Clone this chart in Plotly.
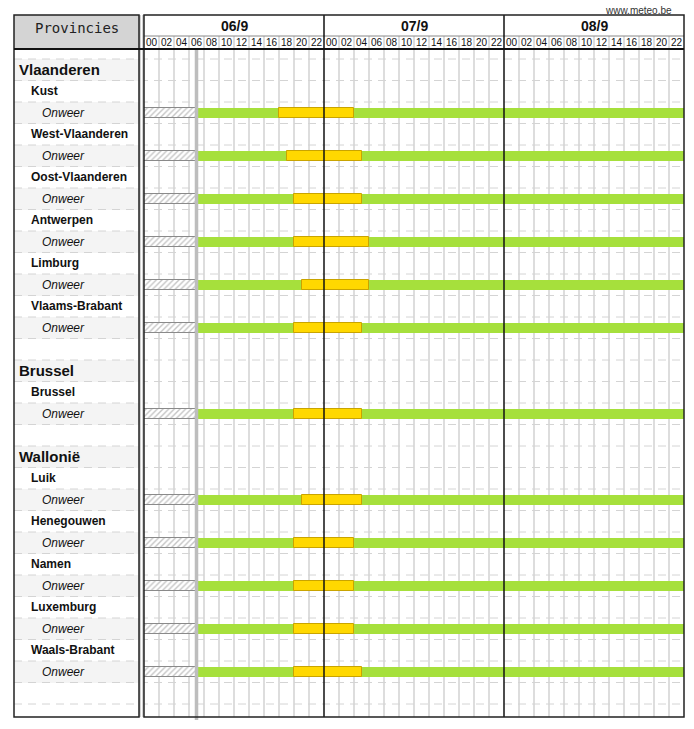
import plotly.graph_objects as go

# ---------------- data ----------------
days = ["06/9", "07/9", "08/9"]
hour_labels = ["00", "02", "04", "06", "08", "10", "12", "14", "16", "18", "20", "22"]
now_hour = 7          # hours since 06/9 00:00 (end of hatched 'past' part)
total_hours = 72

row_labels = ["Vlaanderen", "Kust", "Onweer", "West-Vlaanderen", "Onweer",
              "Oost-Vlaanderen", "Onweer", "Antwerpen", "Onweer", "Limburg", "Onweer",
              "Vlaams-Brabant", "Onweer", "", "Brussel", "Brussel", "Onweer", "",
              "Wallonië", "Luik", "Onweer", "Henegouwen", "Onweer", "Namen", "Onweer",
              "Luxemburg", "Onweer", "Waals-Brabant", "Onweer", ""]
row_levels = [0, 1, 2, 1, 2, 1, 2, 1, 2, 1, 2, 1, 2, -1, 0, 1, 2, -1,
              0, 1, 2, 1, 2, 1, 2, 1, 2, 1, 2, -1]

warn_provinces = ["Kust", "West-Vlaanderen", "Oost-Vlaanderen", "Antwerpen", "Limburg",
                  "Vlaams-Brabant", "Brussel", "Luik", "Henegouwen", "Namen",
                  "Luxemburg", "Waals-Brabant"]
yellow_start = [18, 19, 20, 20, 21, 20, 20, 21, 20, 20, 20, 20]
yellow_end = [28, 29, 29, 30, 30, 29, 29, 29, 28, 28, 28, 29]

# ---------------- layout helpers ----------------
W, H = 694, 729
def px(x):
    return x / W
def py(y):
    return 1 - y / H

ROW_PX = 21.5
CH_L, CH_R = 144, 684
LB_L, LB_R = 14, 139
TOP, HOUR_TOP, HEAD_BOT, BOT = 15, 36, 49, 717
FIRST_ROW_TOP = 59
y_top = -0.5 - (FIRST_ROW_TOP - HEAD_BOT) / ROW_PX
y_bot = -0.5 + (BOT - FIRST_ROW_TOP) / ROW_PX

n_rows = len(row_labels)
onweer_rows = [i for i, l in enumerate(row_levels) if l == 2]
FONT = "Liberation Sans, Arial, sans-serif"

fig = go.Figure()

# label column alternating background
even_rows = [i for i in range(n_rows) if i % 2 == 0]
fig.add_trace(go.Bar(orientation="h", y=even_rows, x=[1] * len(even_rows), base=0,
                     width=1, marker=dict(color="#f4f4f4", line=dict(width=0)),
                     xaxis="x2", yaxis="y", hoverinfo="skip", showlegend=False))

bar_w = 0.47
# hatched past
fig.add_trace(go.Bar(orientation="h", y=onweer_rows, base=[0] * len(onweer_rows),
                     x=[now_hour] * len(onweer_rows), width=bar_w,
                     marker=dict(color="white", line=dict(color="#8a8a8a", width=1),
                                 pattern=dict(shape="/", fgcolor="#8c8c8c", bgcolor="white",
                                              size=4, solidity=0.35)),
                     xaxis="x", yaxis="y", hoverinfo="skip", showlegend=False))
# green (no warning)
fig.add_trace(go.Bar(orientation="h", y=onweer_rows, base=[now_hour] * len(onweer_rows),
                     x=[total_hours - now_hour] * len(onweer_rows), width=bar_w,
                     marker=dict(color="#a6e03c", line=dict(width=0)),
                     xaxis="x", yaxis="y", hoverinfo="skip", showlegend=False))
# yellow warnings
fig.add_trace(go.Bar(orientation="h", y=onweer_rows, base=yellow_start,
                     x=[e - s for s, e in zip(yellow_start, yellow_end)], width=bar_w,
                     marker=dict(color="#ffd800", line=dict(color="#c9a400", width=1)),
                     xaxis="x", yaxis="y", hoverinfo="skip", showlegend=False))

shapes = []
# header grey box
shapes.append(dict(type="rect", xref="paper", yref="paper", x0=px(LB_L), x1=px(LB_R),
                   y0=py(TOP), y1=py(HEAD_BOT), fillcolor="#d4d4d4", line=dict(width=0),
                   layer="below"))
# vertical 2-hour grid lines (hour row + chart)
for h in range(2, total_hours, 2):
    if h % 24 == 0:
        continue
    shapes.append(dict(type="line", xref="x", yref="paper", x0=h, x1=h,
                       y0=py(HOUR_TOP), y1=py(BOT), line=dict(color="#d2d2d2", width=1.5),
                       layer="below"))
# dashed row boundaries
for b in range(n_rows + 1):
    shapes.append(dict(type="line", xref="paper", yref="y", x0=px(LB_L), x1=px(CH_R),
                       y0=b - 0.5, y1=b - 0.5,
                       line=dict(color="#d4d4d4", width=1, dash="8px,6px"), layer="above"))
# hour row top line
shapes.append(dict(type="line", xref="paper", yref="paper", x0=px(CH_L), x1=px(CH_R),
                   y0=py(HOUR_TOP), y1=py(HOUR_TOP), line=dict(color="#888", width=1)))
# day boundaries
for d in range(1, len(days)):
    shapes.append(dict(type="line", xref="x", yref="paper", x0=24 * d, x1=24 * d,
                       y0=py(TOP), y1=py(BOT), line=dict(color="#111", width=1.5),
                       layer="above"))
# now line
shapes.append(dict(type="line", xref="x", yref="paper", x0=now_hour, x1=now_hour,
                   y0=py(HEAD_BOT), y1=py(BOT + 3), line=dict(color="#bdbdbd", width=3.5),
                   layer="above"))
# gap between label column and chart
shapes.append(dict(type="rect", xref="paper", yref="paper", x0=px(LB_R), x1=px(CH_L),
                   y0=py(TOP), y1=py(BOT), fillcolor="#c4c4c4", line=dict(width=0)))
shapes.append(dict(type="line", xref="paper", yref="paper", x0=px(141.5), x1=px(141.5),
                   y0=py(TOP), y1=py(BOT), line=dict(color="#ffffff", width=1.5)))
# frames
shapes.append(dict(type="rect", xref="paper", yref="paper", x0=px(LB_L), x1=px(LB_R),
                   y0=py(TOP), y1=py(BOT), line=dict(color="#222", width=1.5)))
shapes.append(dict(type="rect", xref="paper", yref="paper", x0=px(CH_L), x1=px(CH_R),
                   y0=py(TOP), y1=py(BOT), line=dict(color="#222", width=1.5)))
shapes.append(dict(type="line", xref="paper", yref="paper", x0=px(LB_L), x1=px(CH_R),
                   y0=py(HEAD_BOT), y1=py(HEAD_BOT), line=dict(color="#111", width=2)))

annotations = []
annotations.append(dict(text="Provincies", xref="paper", yref="paper",
                        x=px((LB_L + LB_R) / 2), y=py(28), xanchor="center",
                        yanchor="middle", showarrow=False,
                        font=dict(family="DejaVu Sans Mono, monospace", size=14, color="#222")))
for d, lab in enumerate(days):
    annotations.append(dict(text="<b>" + lab + "</b>", xref="x", yref="paper",
                            x=24 * d + 12, y=py(26), xanchor="center", yanchor="middle",
                            showarrow=False,
                            font=dict(family=FONT, size=14, color="#111")))
annotations.append(dict(text="www.meteo.be", xref="paper", yref="paper", x=px(674),
                        y=py(11), xanchor="right", yanchor="middle", showarrow=False,
                        font=dict(family=FONT, size=10, color="#333")))
indent = {0: 0.024, 1: 0.12, 2: 0.21}
for i, (lab, lev) in enumerate(zip(row_labels, row_levels)):
    if lev < 0 or not lab:
        continue
    if lev == 0:
        txt, size = "<b>" + lab + "</b>", 15
    elif lev == 1:
        txt, size = "<b>" + lab + "</b>", 12
    else:
        txt, size = "<i>" + lab + "</i>", 12
    annotations.append(dict(text=txt, xref="x2", yref="y", x=indent[lev], y=i,
                            xanchor="left", yanchor="middle", showarrow=False,
                            font=dict(family=FONT, size=size, color="#111")))

fig.update_layout(
    width=W, height=H, autosize=False,
    margin=dict(l=0, r=0, t=0, b=0, pad=0),
    paper_bgcolor="white", plot_bgcolor="white",
    barmode="overlay", bargap=0,
    shapes=shapes, annotations=annotations,
    xaxis=dict(domain=[px(CH_L), px(CH_R)], range=[0, total_hours], side="top",
               anchor="y", tickmode="array",
               tickvals=[2 * k + 1 for k in range(len(hour_labels) * len(days))],
               ticktext=hour_labels * len(days), ticks="", showgrid=False,
               zeroline=False, showline=False, fixedrange=True,
               tickfont=dict(family=FONT, size=10, color="#111")),
    xaxis2=dict(domain=[px(LB_L), px(LB_R)], range=[0, 1], anchor="y", visible=False,
                fixedrange=True),
    yaxis=dict(domain=[py(BOT), py(HEAD_BOT)], range=[y_bot, y_top], anchor="x",
               visible=False, fixedrange=True),
)

fig.write_html("out.html")
